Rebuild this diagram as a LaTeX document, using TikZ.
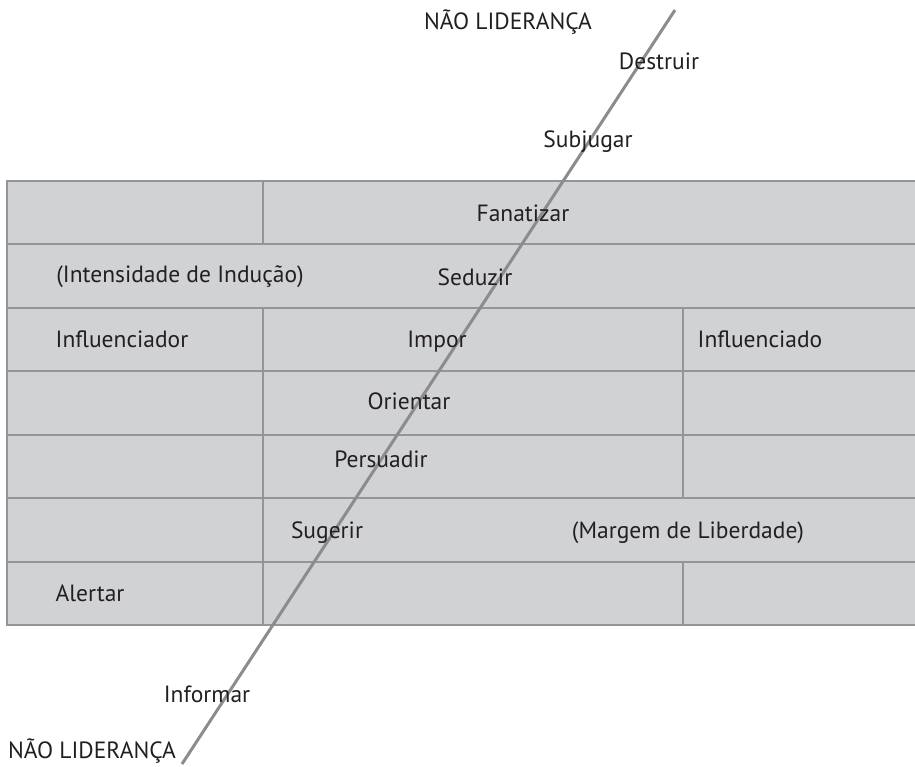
\documentclass[tikz,border=0pt]{standalone}
\usepackage{fontspec}
\setmainfont{PT Sans}
\definecolor{cellfill}{HTML}{D1D2D4}
\definecolor{gridline}{HTML}{939598}
\definecolor{diagline}{HTML}{8C8C8E}
\definecolor{txt}{HTML}{231F20}
\begin{document}
\begin{tikzpicture}[x=1pt,y=-1pt,
  lbl/.style={anchor=base, inner sep=0pt, text=txt, font=\fontsize{23.5}{28}\selectfont},
  grid/.style={draw=gridline, line width=2pt},
  diag/.style={draw=diagline, line width=3pt}]
\useasboundingbox (0,0) rectangle (915,767);
% table background
\fill[cellfill] (7,181) rectangle (915,625);
% horizontal lines
\foreach \y in {181,244,308,371,435,498,562,625}
  \draw[grid] (6,\y) -- (915,\y);
% left border
\draw[grid] (7,180) -- (7,626);
% vertical lines at x=263
\foreach \a/\b in {181/244,308/371,371/435,435/498,498/562,562/625}
  \draw[grid] (263,\a) -- (263,\b);
% vertical lines at x=683
\foreach \a/\b in {308/371,371/435,435/498,562/625}
  \draw[grid] (683,\a) -- (683,\b);
% diagonal
\coordinate (top) at (675,10);
\coordinate (bot) at (182,764);
\draw[diag] (top) -- (bot);
% labels
\node[lbl] (nl1) at (508,30) {NÃO LIDERANÇA};
\node[lbl] (destruir) at (659,70) {Destruir};
\node[lbl] (subjugar) at (588,148) {Subjugar};
\node[lbl] (fanatizar) at (523,222) {Fanatizar};
\node[lbl] (intens) at (180,282) {(Intensidade de Indução)};
\node[lbl] (seduzir) at (475,285) {Seduzir};
\node[lbl] (influenciador) at (122,347) {Influenciador};
\node[lbl] (impor) at (437,347) {Impor};
\node[lbl] (influenciado) at (760,347) {Influenciado};
\node[lbl] (orientar) at (409,409) {Orientar};
\node[lbl] (persuadir) at (381,467) {Persuadir};
\node[lbl] (sugerir) at (327,538) {Sugerir};
\node[lbl] (margem) at (688,538) {(Margem de Liberdade)};
\node[lbl] (alertar) at (90,601) {Alertar};
\node[lbl] (informar) at (207,702) {Informar};
\node[lbl] (nl2) at (92,758) {NÃO LIDERANÇA};
\end{tikzpicture}
\end{document}
